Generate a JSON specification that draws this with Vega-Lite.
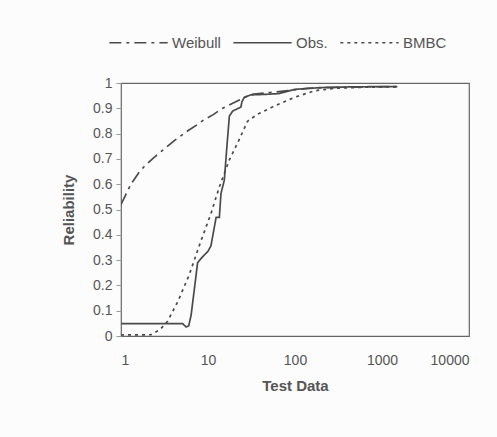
{
  "$schema": "https://vega.github.io/schema/vega-lite/v6.json",
  "autosize": {"type": "none"},
  "padding": {"left": 121, "top": 83, "right": 28, "bottom": 101},
  "width": 348,
  "height": 253,
  "background": "#fcfcfc",
  "config": {
    "font": "Liberation Sans",
    "view": {"stroke": "#666", "strokeWidth": 1.2},
    "axis": {"grid": false, "domain": false, "labelColor": "#555", "titleColor": "#555", "labelFont": "Liberation Sans", "titleFont": "Liberation Sans", "labelFontSize": 14, "titleFontSize": 15, "titleFontWeight": "bold"}
  },
  "data": {
    "values": [
      {"series": "Weibull", "x": 1, "y": 0.52},
      {"series": "Weibull", "x": 1.3, "y": 0.6},
      {"series": "Weibull", "x": 1.6, "y": 0.645},
      {"series": "Weibull", "x": 1.85, "y": 0.67},
      {"series": "Weibull", "x": 2.3, "y": 0.7},
      {"series": "Weibull", "x": 3.15, "y": 0.74},
      {"series": "Weibull", "x": 4.2, "y": 0.775},
      {"series": "Weibull", "x": 5.8, "y": 0.81},
      {"series": "Weibull", "x": 7.5, "y": 0.835},
      {"series": "Weibull", "x": 9.1, "y": 0.856},
      {"series": "Weibull", "x": 11.5, "y": 0.875},
      {"series": "Weibull", "x": 14, "y": 0.896},
      {"series": "Weibull", "x": 18, "y": 0.915},
      {"series": "Weibull", "x": 22, "y": 0.93},
      {"series": "Weibull", "x": 31, "y": 0.955},
      {"series": "Weibull", "x": 50, "y": 0.962},
      {"series": "Weibull", "x": 83, "y": 0.97},
      {"series": "Weibull", "x": 140, "y": 0.979},
      {"series": "Weibull", "x": 300, "y": 0.983},
      {"series": "Weibull", "x": 700, "y": 0.985},
      {"series": "Weibull", "x": 1650, "y": 0.986},
      {"series": "Obs.", "x": 1, "y": 0.049},
      {"series": "Obs.", "x": 5.1, "y": 0.049},
      {"series": "Obs.", "x": 5.6, "y": 0.036},
      {"series": "Obs.", "x": 6.0, "y": 0.04},
      {"series": "Obs.", "x": 6.4, "y": 0.083},
      {"series": "Obs.", "x": 7.6, "y": 0.29},
      {"series": "Obs.", "x": 8.5, "y": 0.31},
      {"series": "Obs.", "x": 10, "y": 0.335},
      {"series": "Obs.", "x": 10.8, "y": 0.356},
      {"series": "Obs.", "x": 12.4, "y": 0.469},
      {"series": "Obs.", "x": 13.5, "y": 0.469},
      {"series": "Obs.", "x": 14.1, "y": 0.563},
      {"series": "Obs.", "x": 15.4, "y": 0.616},
      {"series": "Obs.", "x": 16.5, "y": 0.75},
      {"series": "Obs.", "x": 17.6, "y": 0.869},
      {"series": "Obs.", "x": 19.2, "y": 0.889},
      {"series": "Obs.", "x": 23.9, "y": 0.905},
      {"series": "Obs.", "x": 24.5, "y": 0.925},
      {"series": "Obs.", "x": 26.1, "y": 0.943},
      {"series": "Obs.", "x": 31, "y": 0.953},
      {"series": "Obs.", "x": 45, "y": 0.955},
      {"series": "Obs.", "x": 65, "y": 0.958},
      {"series": "Obs.", "x": 100, "y": 0.975},
      {"series": "Obs.", "x": 200, "y": 0.982},
      {"series": "Obs.", "x": 500, "y": 0.985},
      {"series": "Obs.", "x": 1500, "y": 0.986},
      {"series": "BMBC", "x": 1, "y": 0.004},
      {"series": "BMBC", "x": 2.2, "y": 0.005},
      {"series": "BMBC", "x": 2.8, "y": 0.025},
      {"series": "BMBC", "x": 3.4, "y": 0.056},
      {"series": "BMBC", "x": 4.5, "y": 0.136},
      {"series": "BMBC", "x": 6.1, "y": 0.243},
      {"series": "BMBC", "x": 8.3, "y": 0.376},
      {"series": "BMBC", "x": 10.8, "y": 0.483},
      {"series": "BMBC", "x": 13.5, "y": 0.589},
      {"series": "BMBC", "x": 17.6, "y": 0.696},
      {"series": "BMBC", "x": 21.9, "y": 0.763},
      {"series": "BMBC", "x": 28.5, "y": 0.849},
      {"series": "BMBC", "x": 37, "y": 0.876},
      {"series": "BMBC", "x": 58, "y": 0.909},
      {"series": "BMBC", "x": 98, "y": 0.943},
      {"series": "BMBC", "x": 167, "y": 0.969},
      {"series": "BMBC", "x": 280, "y": 0.979},
      {"series": "BMBC", "x": 600, "y": 0.983},
      {"series": "BMBC", "x": 1450, "y": 0.985}
    ]
  },
  "mark": {"type": "line", "stroke": "#4a4a4a", "strokeWidth": 1.7, "clip": true},
  "encoding": {
    "x": {
      "field": "x", "type": "quantitative",
      "scale": {"type": "log", "domain": [1, 10000], "nice": false},
      "axis": {"title": "Test Data", "values": [1, 10, 100, 1000, 10000], "format": "~g", "ticks": false, "labelPadding": 17, "titlePadding": 11}
    },
    "y": {
      "field": "y", "type": "quantitative",
      "scale": {"domain": [0, 1], "nice": false},
      "axis": {"title": "Reliability", "values": [0, 0.1, 0.2, 0.3, 0.4, 0.5, 0.6, 0.7, 0.8, 0.9, 1], "format": "~g", "tickSize": 5, "tickColor": "#999", "labelPadding": 4, "titlePadding": 16}
    },
    "strokeDash": {
      "field": "series", "type": "nominal",
      "scale": {"domain": ["Weibull", "Obs.", "BMBC"], "range": [[12, 5, 3, 5], [1, 0], [3, 4]]},
      "legend": {
        "title": null, "orient": "none", "direction": "horizontal",
        "legendX": -13, "legendY": -71,
        "symbolType": "stroke", "symbolSize": 3400, "symbolStrokeColor": "#4a4a4a", "symbolStrokeWidth": 1.7,
        "labelFontSize": 15, "labelColor": "#555", "labelFont": "Liberation Sans",
        "labelOffset": 3, "columnPadding": 8
      }
    },
    "order": {"field": "x", "type": "quantitative"}
  }
}
